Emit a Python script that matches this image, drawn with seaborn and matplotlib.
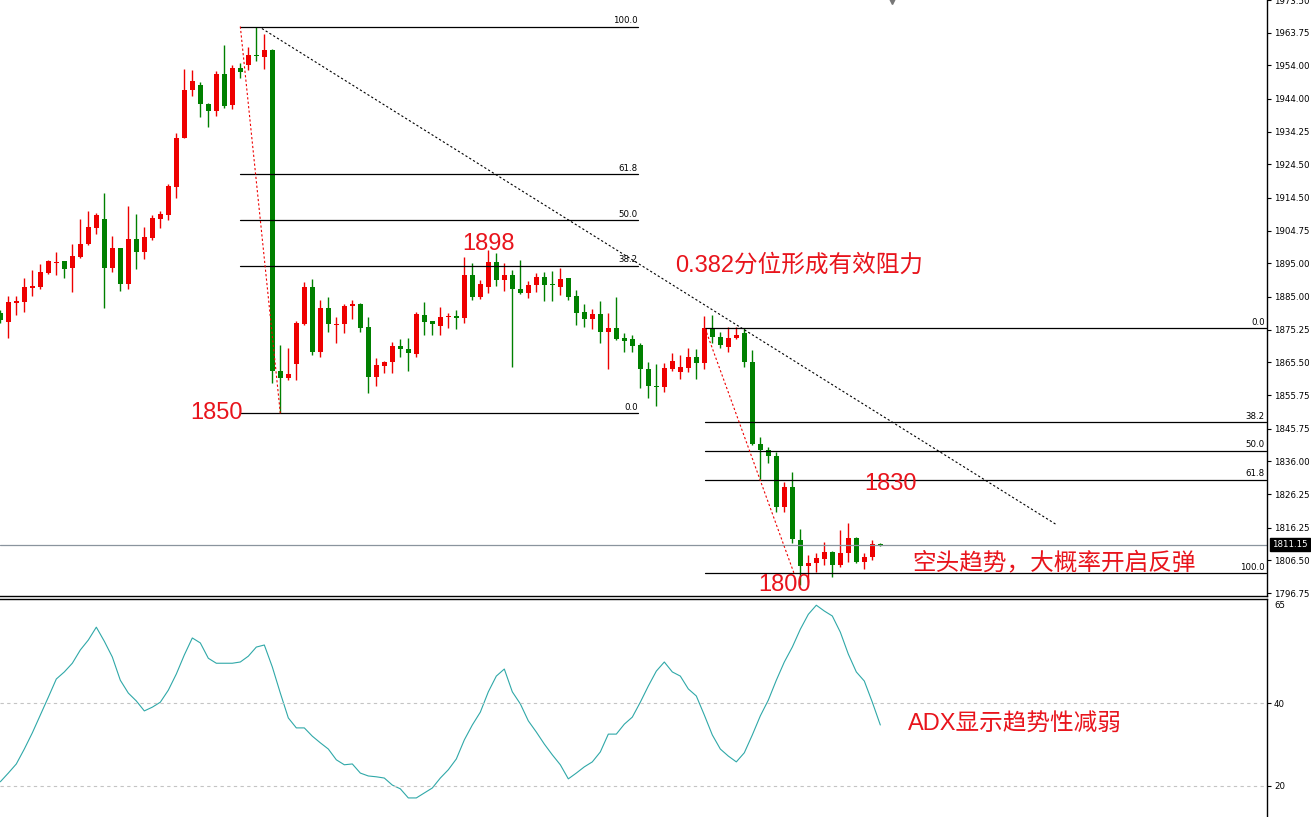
import matplotlib
matplotlib.use("Agg")
import matplotlib.pyplot as plt
import matplotlib.transforms as mtransforms
import numpy as np
import pandas as pd
import seaborn as sns

# candle data (one per bar)
opens = [1880.1, 1877.4, 1883.3, 1883.6, 1887.8, 1888.1, 1892.0, 1895.2, 1895.6, 1893.5,
         1896.8, 1900.7, 1905.4, 1908.1, 1893.5, 1899.5, 1889.0, 1902.4, 1898.3, 1902.7,
         1908.1, 1909.3, 1917.9, 1932.5, 1946.8, 1948.3, 1942.6, 1940.3, 1951.3, 1942.3,
         1953.3, 1954.2, 1957.2, 1956.6, 1958.7, 1862.8, 1860.7, 1864.9, 1876.8, 1888.1,
         1868.5, 1881.6, 1876.7, 1876.8, 1882.2, 1883.0, 1875.9, 1861.0, 1864.3, 1865.5,
         1870.3, 1869.4, 1867.9, 1879.5, 1877.7, 1876.2, 1878.9, 1879.2, 1878.6, 1891.4,
         1885.1, 1888.1, 1895.3, 1889.9, 1891.4, 1887.5, 1886.3, 1888.7, 1890.8, 1888.8,
         1888.1, 1890.5, 1885.4, 1880.4, 1878.3, 1879.8, 1874.4, 1875.6, 1872.9, 1872.6,
         1870.6, 1863.4, 1858.5, 1858.1, 1863.4, 1862.5, 1863.7, 1867.0, 1865.2, 1875.6,
         1873.2, 1870.0, 1872.9, 1874.1, 1865.5, 1841.1, 1839.3, 1837.5, 1822.3, 1828.3,
         1812.5, 1804.8, 1805.7, 1806.9, 1809.0, 1805.1, 1808.7, 1813.1, 1806.0, 1807.5,
         1811.3]
highs = [1881.0, 1885.4, 1885.4, 1890.5, 1892.9, 1894.7, 1895.9, 1898.3, 1895.7, 1900.7,
         1908.1, 1910.5, 1909.9, 1916.1, 1903.3, 1899.7, 1912.0, 1909.6, 1905.7, 1909.3,
         1910.5, 1918.8, 1934.0, 1952.8, 1952.5, 1949.2, 1942.8, 1952.2, 1960.2, 1954.2,
         1954.8, 1959.6, 1965.6, 1963.5, 1958.9, 1870.6, 1869.7, 1877.7, 1889.3, 1890.2,
         1884.2, 1885.1, 1878.9, 1883.0, 1884.2, 1883.2, 1878.9, 1866.7, 1865.8, 1871.7,
         1872.6, 1872.9, 1880.4, 1883.6, 1877.9, 1881.9, 1880.1, 1881.0, 1896.8, 1895.0,
         1889.9, 1898.9, 1898.0, 1895.0, 1892.9, 1895.9, 1889.6, 1892.0, 1892.3, 1892.6,
         1893.5, 1890.7, 1887.2, 1883.0, 1881.3, 1883.9, 1880.1, 1885.1, 1874.1, 1873.8,
         1871.2, 1865.5, 1864.9, 1865.2, 1868.2, 1867.6, 1869.7, 1869.4, 1879.2, 1879.5,
         1874.4, 1875.9, 1875.9, 1875.6, 1869.1, 1843.2, 1840.2, 1838.7, 1829.8, 1832.8,
         1815.8, 1808.1, 1808.7, 1811.9, 1809.2, 1815.5, 1817.6, 1813.4, 1808.7, 1812.5,
         1811.6]
lows = [1877.1, 1872.9, 1879.5, 1880.4, 1885.4, 1887.5, 1891.7, 1891.4, 1890.5, 1886.6,
        1896.6, 1900.4, 1903.9, 1881.6, 1892.3, 1886.9, 1887.5, 1893.2, 1896.2, 1902.1,
        1905.4, 1907.8, 1914.6, 1932.3, 1945.0, 1938.5, 1935.5, 1938.8, 1941.4, 1941.1,
        1950.4, 1952.5, 1955.4, 1953.0, 1859.3, 1850.3, 1860.2, 1860.2, 1876.5, 1867.6,
        1867.0, 1874.4, 1871.4, 1874.1, 1878.3, 1874.4, 1856.3, 1858.4, 1862.2, 1862.2,
        1867.0, 1862.8, 1867.0, 1873.8, 1873.8, 1873.8, 1875.6, 1875.3, 1877.1, 1884.2,
        1884.5, 1886.3, 1888.4, 1886.9, 1864.0, 1886.0, 1884.8, 1886.6, 1883.9, 1883.9,
        1885.7, 1884.2, 1876.5, 1875.9, 1875.3, 1871.4, 1863.4, 1872.3, 1868.5, 1868.5,
        1857.8, 1854.8, 1852.4, 1856.6, 1862.8, 1860.4, 1862.5, 1860.4, 1863.4, 1871.2,
        1869.7, 1868.5, 1872.6, 1864.0, 1840.8, 1830.7, 1835.4, 1820.9, 1820.9, 1811.6,
        1799.0, 1800.0, 1803.0, 1805.1, 1801.5, 1804.5, 1806.0, 1805.7, 1803.9, 1806.6,
        1810.9]
closes = [1878.0, 1883.6, 1883.9, 1888.1, 1888.4, 1892.3, 1895.6, 1895.4, 1893.2, 1897.1,
          1900.7, 1905.7, 1909.3, 1893.5, 1899.5, 1889.0, 1902.4, 1898.3, 1903.0, 1908.4,
          1909.6, 1918.2, 1932.5, 1946.8, 1949.5, 1942.6, 1940.3, 1951.3, 1942.0, 1953.3,
          1951.9, 1957.2, 1956.9, 1958.7, 1862.8, 1860.7, 1861.9, 1877.1, 1888.1, 1868.5,
          1881.6, 1876.8, 1876.9, 1882.4, 1883.0, 1875.6, 1861.0, 1864.6, 1865.5, 1870.3,
          1869.4, 1868.2, 1879.8, 1877.4, 1876.8, 1878.9, 1879.2, 1878.6, 1891.4, 1885.1,
          1889.0, 1895.3, 1889.9, 1891.4, 1887.5, 1886.3, 1888.7, 1890.8, 1888.7, 1888.6,
          1890.2, 1885.1, 1880.1, 1878.3, 1879.8, 1874.4, 1875.6, 1872.6, 1872.0, 1870.3,
          1863.4, 1858.4, 1858.3, 1863.7, 1865.8, 1864.0, 1867.0, 1865.2, 1875.6, 1873.2,
          1870.6, 1872.9, 1873.8, 1865.5, 1841.1, 1839.3, 1837.5, 1822.3, 1828.3, 1812.8,
          1804.8, 1805.7, 1807.2, 1809.0, 1805.1, 1808.7, 1813.1, 1806.0, 1807.5, 1811.3,
          1811.15]

# ADX indicator values
adx = [21.0, 23.1, 25.3, 28.9, 32.8, 37.1, 41.4, 45.8, 47.5, 49.6,
       52.8, 55.2, 58.3, 54.9, 51.1, 45.5, 42.4, 40.5, 38.1, 39.0,
       40.2, 43.1, 47.0, 51.6, 55.7, 54.5, 50.8, 49.6, 49.6, 49.6,
       49.9, 51.3, 53.5, 54.0, 48.7, 42.4, 36.4, 34.0, 34.0, 32.0,
       30.4, 28.9, 26.3, 25.1, 25.3, 23.1, 22.4, 22.2, 21.9, 20.2,
       19.3, 17.1, 17.1, 18.3, 19.5, 21.9, 23.9, 26.5, 31.1, 34.7,
       37.8, 42.7, 46.5, 48.2, 42.7, 39.8, 35.7, 33.0, 30.1, 27.5,
       25.1, 21.7, 23.1, 24.6, 25.8, 28.2, 32.5, 32.5, 34.9, 36.6,
       40.2, 44.1, 47.7, 49.9, 47.5, 46.5, 43.4, 41.7, 37.1, 32.3,
       28.9, 27.2, 25.8, 28.0, 32.3, 36.9, 40.7, 45.5, 49.9, 53.5,
       57.8, 61.4, 63.6, 62.2, 61.0, 57.1, 51.8, 47.5, 45.3, 40.2,
       34.7]

price_ticks = [1973.50, 1963.75, 1954.00, 1944.00, 1934.25, 1924.50, 1914.50, 1904.75,
               1895.00, 1885.00, 1875.25, 1865.50, 1855.75, 1845.75, 1836.00, 1826.25,
               1816.25, 1806.50, 1796.75]
adx_ticks = [20, 40]
last_price = 1811.15

fib_ratios = [0.0, 38.2, 50.0, 61.8, 100.0]
left_fib = (1850.3, 1965.6)    # price at 0.0 and 100.0
right_fib = (1875.6, 1802.7)

RED = "#ee0000"
GREEN = "#008000"
TXT_RED = "#e8141c"

sns.set_theme(style="white")
plt.rcParams['font.family'] = ['Liberation Sans', 'Noto Sans CJK SC', 'DejaVu Sans']

W, H = 1311, 817
fig = plt.figure(figsize=(W / 100, H / 100), dpi=100)
ax = fig.add_axes([0, 1 - 596 / H, 1267 / W, 596 / H])
ax2 = fig.add_axes([0, 0, 1267 / W, 218 / H])

df = pd.DataFrame(dict(open=opens, high=highs, low=lows, close=closes))
df['idx'] = np.arange(len(df))
colors = np.where(df.close >= df.open, RED, GREEN)

# wicks and bodies
ax.vlines(df.idx, df.low, df.high, colors=colors, lw=1)
body_lo = np.minimum(df.open, df.close)
body_h = np.maximum((df.close - df.open).abs(), 0.3)
ax.bar(df.idx, body_h, bottom=body_lo, width=0.62, color=colors, linewidth=0)

xmax = 1267 / 8
ax.set_xlim(-0.04, xmax - 0.04)
ax.set_ylim(1795.86, 1973.29)

# fibonacci retracements
def draw_fib(p0, p100, x0, x1):
    for r in fib_ratios:
        lvl = p0 + (p100 - p0) * r / 100
        ax.plot([x0, x1], [lvl, lvl], color='black', lw=0.9)
        ax.text(x1 - 0.1, lvl + 0.4, f"{r:.1f}", ha='right', va='bottom',
                fontsize=6.2, family='DejaVu Sans', color='black')

draw_fib(*left_fib, 30.0, 79.75)
draw_fib(*right_fib, 88.1, xmax - 0.2)

# trend lines
ax.plot([30.0, 35.0], [1965.6, 1850.3], color=RED, lw=0.8, ls=(0, (2, 2)))
ax.plot([88.1, 99.2], [1875.6, 1802.7], color=RED, lw=0.8, ls=(0, (2, 2)))
ax.plot([32.7, 131.9], [1965.0, 1817.3], color='black', lw=0.8, ls=(0, (2, 2)))

# current price line and marker
ax.axhline(last_price, color='#8a949e', lw=0.9)
trans = mtransforms.blended_transform_factory(ax.transAxes, ax.transData)
ax.text(1.004, last_price, "1811.15", transform=trans, ha='left', va='center',
        color='white', fontsize=6.2, family='DejaVu Sans',
        bbox=dict(facecolor='black', edgecolor='black', pad=1.3))
ax.plot(111.5, 1973.29, marker='v', ms=4, color='#777777', clip_on=False)

# annotations
ann = dict(color=TXT_RED, fontsize=17, va='center', ha='left')
ax.text(23.75, 1850.3, "1850", **ann)
ax.text(57.75, 1900.7, "1898", **ann)
ax.text(84.4, 1894.4, "0.382分位形成有效阻力", **ann)
ax.text(108.0, 1829.2, "1830", **ann)
ax.text(114.0, 1805.7, "空头趋势，大概率开启反弹", **ann)
ax.text(94.75, 1799.1, "1800", clip_on=False, **ann)

# price axis styling
ax.yaxis.tick_right()
ax.set_yticks(price_ticks)
ax.set_yticklabels([f"{t:.2f}" for t in price_ticks], fontsize=6.2, family='DejaVu Sans')
ax.tick_params(axis='y', direction='out', length=3, width=0.8, pad=2, colors='black')
ax.set_xticks([])
for s in ['top', 'left']:
    ax.spines[s].set_visible(False)
for s in ['right', 'bottom']:
    ax.spines[s].set_color('black')
    ax.spines[s].set_linewidth(1.0)

# ADX panel
sns.lineplot(x=df.idx, y=adx, ax=ax2, color='#2fa8a8', lw=0.8)
for lvl in adx_ticks:
    ax2.axhline(lvl, color='#c4c4c4', lw=0.8, ls=(0, (3, 3)))
ax2.set_xlim(-0.04, xmax - 0.04)
ax2.set_ylim(12.5, 65.1)
ax2.yaxis.tick_right()
ax2.set_yticks(adx_ticks)
ax2.set_yticklabels([str(t) for t in adx_ticks], fontsize=6.2, family='DejaVu Sans')
ax2.tick_params(axis='y', direction='out', length=3, width=0.8, pad=2, colors='black')
ax2.set_xticks([])
ax2.set_xlabel("")
ax2.set_ylabel("")
ax2.text(1.006, 64.6, "65", transform=mtransforms.blended_transform_factory(ax2.transAxes, ax2.transData),
         ha='left', va='top', fontsize=6.2, family='DejaVu Sans', color='black')
ax2.text(113.5, 34.7, "ADX显示趋势性减弱", **ann)
for s in ['left', 'bottom']:
    ax2.spines[s].set_visible(False)
for s in ['right', 'top']:
    ax2.spines[s].set_color('black')
    ax2.spines[s].set_linewidth(1.0)

fig.savefig("out.png", dpi=100)
